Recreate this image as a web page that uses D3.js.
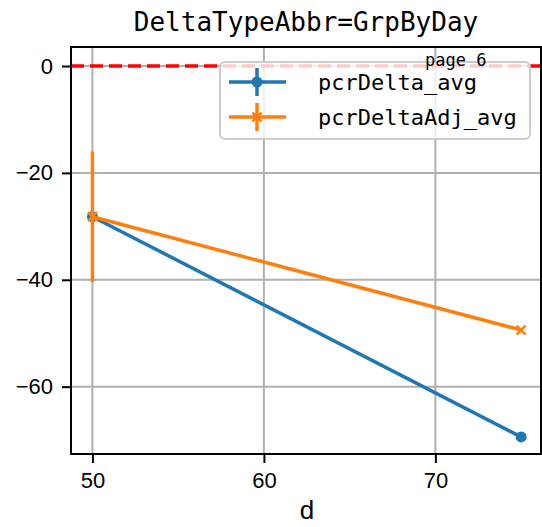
<!DOCTYPE html>
<html><head><meta charset="utf-8">
<script src="https://cdn.jsdelivr.net/npm/d3@7"></script>
<style>body{margin:0;background:#fff}</style>
</head><body>
<script>
const title = "DeltaTypeAbbr=GrpByDay";
const xLabel = "d";
const xTicks = [50, 60, 70];
const yTicks = [0, -20, -40, -60];
const days = [50, 75];
const pcrDeltaAvg = [-28.2, -69.4];
const pcrDeltaAvgErr = [0, 0];
const pcrDeltaAdjAvg = [-28.2, -49.4];
const pcrDeltaAdjAvgErr = [12.2, 0];
const seriesNames = ["pcrDelta_avg", "pcrDeltaAdj_avg"];
const colors = ["#1f77b4", "#ff7f0e"];
const pageText = "page 6";

const W = 542, H = 527;
const m = {left: 71, right: 1, top: 47, bottom: 73};
const svg = d3.select("body").append("svg").attr("width", W).attr("height", H);
const x = d3.scaleLinear().domain([48.75, 76.16]).range([m.left, W - m.right]);
const y = d3.scaleLinear().domain([3.56, -72.6]).range([m.top, H - m.bottom]);

const mono = "'DejaVu Sans Mono', monospace";
const sans = "'Liberation Sans', Arial, sans-serif";

// grid
const g = svg.append("g");
g.selectAll(".gx").data(xTicks).join("line")
  .attr("x1", d => x(d)).attr("x2", d => x(d)).attr("y1", m.top).attr("y2", H - m.bottom)
  .attr("stroke", "#b0b0b0").attr("stroke-width", 2);
g.selectAll(".gy").data(yTicks).join("line")
  .attr("y1", d => y(d)).attr("y2", d => y(d)).attr("x1", m.left).attr("x2", W - m.right)
  .attr("stroke", "#b0b0b0").attr("stroke-width", 2);

// zero ref line
svg.append("line").attr("x1", m.left).attr("x2", W - m.right).attr("y1", y(0)).attr("y2", y(0))
  .attr("stroke", "red").attr("stroke-width", 3.5).attr("stroke-dasharray", "13,6");

const series = [
  {vals: pcrDeltaAvg, err: pcrDeltaAvgErr, color: colors[0], marker: "circle"},
  {vals: pcrDeltaAdjAvg, err: pcrDeltaAdjAvgErr, color: colors[1], marker: "x"}
];
const line = d3.line().x((d, i) => x(days[i])).y(d => y(d));
series.forEach(s => {
  const sg = svg.append("g");
  sg.append("path").attr("d", line(s.vals)).attr("fill", "none").attr("stroke", s.color).attr("stroke-width", 3.5);
  s.vals.forEach((v, i) => {
    if (s.err[i] > 0) {
      sg.append("line").attr("x1", x(days[i])).attr("x2", x(days[i]))
        .attr("y1", y(v - s.err[i])).attr("y2", y(v + s.err[i]))
        .attr("stroke", s.color).attr("stroke-width", 3.5);
    }
    if (s.marker === "circle") {
      sg.append("circle").attr("cx", x(days[i])).attr("cy", y(v)).attr("r", 5.5).attr("fill", s.color);
    } else {
      const cx = x(days[i]), cy = y(v), r = 4.5;
      sg.append("path").attr("d", `M${cx-r},${cy-r}L${cx+r},${cy+r}M${cx-r},${cy+r}L${cx+r},${cy-r}`)
        .attr("stroke", s.color).attr("stroke-width", 2.5);
    }
  });
});

// axes frame
svg.append("rect").attr("x", m.left).attr("y", m.top).attr("width", W - m.right - m.left).attr("height", H - m.bottom - m.top)
  .attr("fill", "none").attr("stroke", "#000").attr("stroke-width", 2);

const xa = svg.append("g").attr("transform", `translate(0,${H - m.bottom})`)
  .call(d3.axisBottom(x).tickValues(xTicks).tickSize(9).tickPadding(9).tickFormat(d3.format("d")));
const ya = svg.append("g").attr("transform", `translate(${m.left},0)`)
  .call(d3.axisLeft(y).tickValues(yTicks).tickSize(9).tickPadding(9).tickFormat(d => d < 0 ? "\u2212" + Math.abs(d) : d));
[xa, ya].forEach(a => {
  a.select(".domain").remove();
  a.selectAll(".tick line").attr("stroke", "#000").attr("stroke-width", 2);
  a.selectAll(".tick text").attr("font-family", sans).attr("font-size", 22).attr("fill", "#000");
});

// labels
svg.append("text").attr("x", (m.left + W - m.right) / 2).attr("y", 31).attr("text-anchor", "middle")
  .attr("font-family", mono).attr("font-size", 26).text(title);
svg.append("text").attr("x", 307).attr("y", 519).attr("text-anchor", "middle")
  .attr("font-family", sans).attr("font-size", 26).text(xLabel);

// legend
const lg = svg.append("g");
lg.append("rect").attr("x", 220).attr("y", 62).attr("width", 310).attr("height", 77).attr("rx", 5)
  .attr("fill", "#fff").attr("fill-opacity", 0.8).attr("stroke", "#ccc").attr("stroke-width", 2);
series.forEach((s, i) => {
  const ly = 82 + i * 35;
  lg.append("line").attr("x1", 229).attr("x2", 286).attr("y1", ly).attr("y2", ly).attr("stroke", s.color).attr("stroke-width", 3.5);
  lg.append("line").attr("x1", 257).attr("x2", 257).attr("y1", ly - 14).attr("y2", ly + 14).attr("stroke", s.color).attr("stroke-width", 3.5);
  if (s.marker === "circle") lg.append("circle").attr("cx", 257).attr("cy", ly).attr("r", 5.5).attr("fill", s.color);
  else { const r = 4.5; lg.append("path").attr("d", `M${257-r},${ly-r}L${257+r},${ly+r}M${257-r},${ly+r}L${257+r},${ly-r}`).attr("stroke", s.color).attr("stroke-width", 2.5); }
  lg.append("text").attr("x", 318).attr("y", ly + 8).attr("font-family", mono).attr("font-size", 22).text(seriesNames[i]);
});
svg.append("text").attr("x", 425).attr("y", 66).attr("font-family", mono).attr("font-size", 17).text(pageText);
</script>
</body></html>
